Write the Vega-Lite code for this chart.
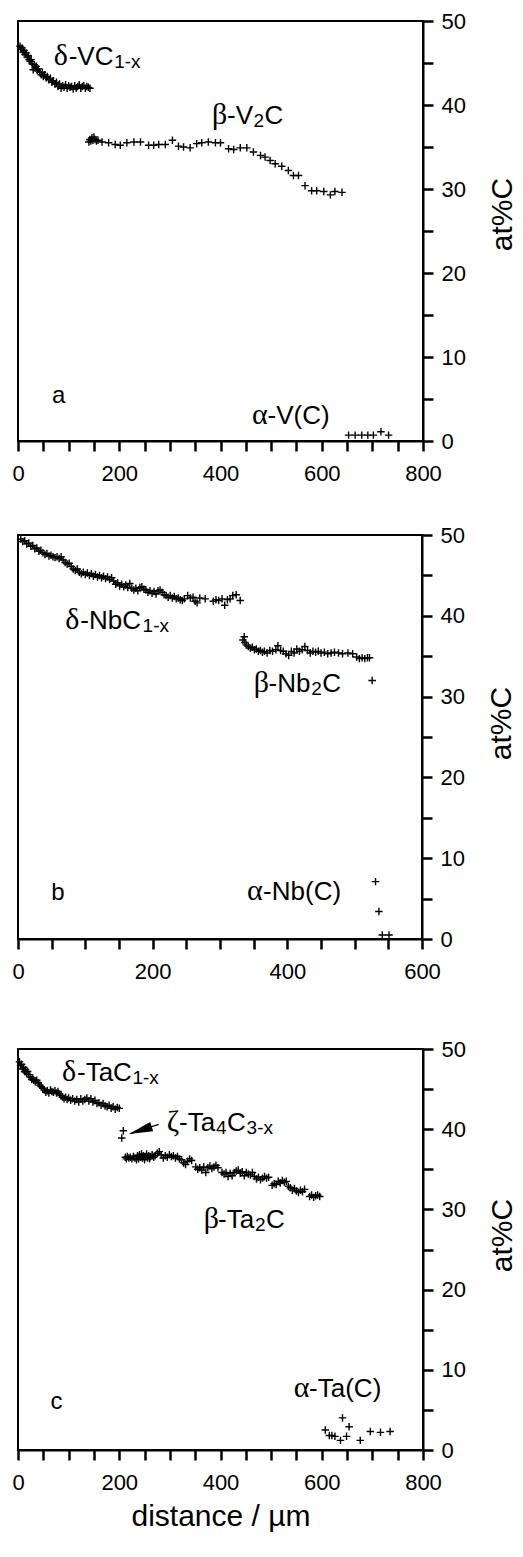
{
  "$schema": "https://vega.github.io/schema/vega-lite/v6.json",
  "background": "white",
  "padding": {"left": 10, "top": 9, "right": 0, "bottom": 0},
  "config": {
    "view": {"stroke": "black", "strokeWidth": 2},
    "axis": {
      "domain": true, "domainColor": "black", "domainWidth": 2,
      "ticks": true, "tickColor": "black", "tickWidth": 2.5, "tickSize": 10,
      "labelColor": "black", "labelFont": "Liberation Sans", "labelFontSize": 22, "labelPadding": 8,
      "titleFont": "Liberation Sans", "titleFontSize": 30, "titleFontWeight": "normal", "titleColor": "black",
      "grid": false, "labelFlush": false
    },
    "axisX": {"labelPadding": 12}
  },
  "datasets": {
    "a": [
      {"dist":4,"atC":47.0},{"dist":6,"atC":46.6},{"dist":8,"atC":46.8},{"dist":10,"atC":46.3},{"dist":12,"atC":46.5},{"dist":14,"atC":46.0},{"dist":16,"atC":46.2},{"dist":18,"atC":45.7},{"dist":20,"atC":45.9},{"dist":22,"atC":45.4},{"dist":24,"atC":45.2},{"dist":26,"atC":45.4},{"dist":28,"atC":44.9},{"dist":30,"atC":44.2},{"dist":32,"atC":44.8},{"dist":34,"atC":44.4},{"dist":36,"atC":44.6},{"dist":38,"atC":44.1},{"dist":40,"atC":44.3},{"dist":43,"atC":43.9},{"dist":46,"atC":43.6},{"dist":48,"atC":43.9},{"dist":50,"atC":43.4},{"dist":53,"atC":43.6},{"dist":56,"atC":43.2},{"dist":58,"atC":43.4},{"dist":61,"atC":43.0},{"dist":64,"atC":43.2},{"dist":67,"atC":42.7},{"dist":70,"atC":42.9},{"dist":73,"atC":42.5},{"dist":76,"atC":42.7},{"dist":79,"atC":42.2},{"dist":82,"atC":42.5},{"dist":85,"atC":42.0},{"dist":88,"atC":42.3},{"dist":91,"atC":42.1},{"dist":94,"atC":42.4},{"dist":97,"atC":42.0},{"dist":100,"atC":42.3},{"dist":103,"atC":42.1},{"dist":106,"atC":42.2},{"dist":109,"atC":41.9},{"dist":112,"atC":42.3},{"dist":115,"atC":42.0},{"dist":118,"atC":42.2},{"dist":121,"atC":42.4},{"dist":124,"atC":42.0},{"dist":127,"atC":42.2},{"dist":130,"atC":42.3},{"dist":133,"atC":42.0},{"dist":136,"atC":42.2},{"dist":139,"atC":42.1},{"dist":142,"atC":42.0},
      {"dist":140,"atC":35.6},{"dist":142,"atC":35.9},{"dist":144,"atC":35.7},{"dist":146,"atC":36.1},{"dist":148,"atC":35.8},{"dist":150,"atC":36.2},{"dist":152,"atC":35.9},{"dist":155,"atC":35.7},{"dist":158,"atC":35.8},{"dist":166,"atC":35.6},{"dist":179,"atC":35.5},{"dist":192,"atC":35.3},{"dist":202,"atC":35.2},{"dist":215,"atC":35.5},{"dist":229,"atC":35.6},{"dist":242,"atC":35.6},{"dist":258,"atC":35.2},{"dist":268,"atC":35.2},{"dist":278,"atC":35.3},{"dist":291,"atC":35.3},{"dist":305,"atC":35.8},{"dist":317,"atC":35.1},{"dist":327,"atC":35.0},{"dist":340,"atC":34.9},{"dist":353,"atC":35.4},{"dist":363,"atC":35.5},{"dist":376,"atC":35.6},{"dist":390,"atC":35.5},{"dist":400,"atC":35.5},{"dist":416,"atC":34.8},{"dist":426,"atC":34.7},{"dist":439,"atC":34.9},{"dist":452,"atC":34.9},{"dist":465,"atC":34.4},{"dist":479,"atC":34.0},{"dist":488,"atC":33.8},{"dist":498,"atC":33.4},{"dist":508,"atC":33.0},{"dist":521,"atC":32.7},{"dist":534,"atC":32.2},{"dist":544,"atC":31.6},{"dist":554,"atC":31.6},{"dist":567,"atC":30.4},{"dist":580,"atC":29.8},{"dist":590,"atC":29.8},{"dist":604,"atC":29.7},{"dist":617,"atC":29.3},{"dist":626,"atC":29.7},{"dist":640,"atC":29.6},
      {"dist":653,"atC":0.7},{"dist":666,"atC":0.7},{"dist":679,"atC":0.7},{"dist":691,"atC":0.7},{"dist":702,"atC":0.7},{"dist":717,"atC":1.1},{"dist":732,"atC":0.7}
    ],
    "b": [
      {"dist":4,"atC":49.5},{"dist":7,"atC":49.2},{"dist":10,"atC":49.3},{"dist":13,"atC":48.9},{"dist":16,"atC":49.0},{"dist":19,"atC":48.6},{"dist":22,"atC":48.7},{"dist":25,"atC":48.3},{"dist":28,"atC":48.4},{"dist":31,"atC":48.0},{"dist":34,"atC":48.1},{"dist":37,"atC":47.8},{"dist":40,"atC":47.6},{"dist":43,"atC":47.7},{"dist":46,"atC":47.4},{"dist":49,"atC":47.5},{"dist":52,"atC":47.3},{"dist":55,"atC":47.2},{"dist":58,"atC":47.3},{"dist":61,"atC":47.1},{"dist":64,"atC":47.3},{"dist":67,"atC":46.9},{"dist":70,"atC":46.6},{"dist":73,"atC":46.4},{"dist":76,"atC":46.5},{"dist":79,"atC":46.1},{"dist":82,"atC":45.8},{"dist":85,"atC":45.6},{"dist":88,"atC":45.8},{"dist":91,"atC":45.4},{"dist":94,"atC":45.2},{"dist":97,"atC":45.4},{"dist":100,"atC":45.1},{"dist":103,"atC":45.3},{"dist":106,"atC":45.0},{"dist":109,"atC":45.2},{"dist":112,"atC":44.9},{"dist":115,"atC":45.1},{"dist":118,"atC":44.8},{"dist":121,"atC":45.0},{"dist":124,"atC":44.7},{"dist":127,"atC":44.9},{"dist":130,"atC":44.6},{"dist":133,"atC":44.8},{"dist":136,"atC":44.5},{"dist":139,"atC":44.7},{"dist":142,"atC":44.3},{"dist":145,"atC":43.9},{"dist":148,"atC":44.1},{"dist":151,"atC":43.7},{"dist":154,"atC":43.9},{"dist":157,"atC":43.6},{"dist":160,"atC":43.8},{"dist":163,"atC":43.5},{"dist":166,"atC":44.0},{"dist":169,"atC":43.4},{"dist":172,"atC":43.2},{"dist":175,"atC":43.4},{"dist":178,"atC":43.1},{"dist":181,"atC":43.5},{"dist":184,"atC":43.6},{"dist":187,"atC":43.3},{"dist":190,"atC":43.2},{"dist":193,"atC":42.9},{"dist":196,"atC":43.1},{"dist":199,"atC":42.8},{"dist":202,"atC":43.0},{"dist":205,"atC":42.7},{"dist":208,"atC":43.1},{"dist":211,"atC":43.2},{"dist":214,"atC":42.9},{"dist":217,"atC":42.6},{"dist":220,"atC":42.5},{"dist":223,"atC":42.3},{"dist":226,"atC":42.5},{"dist":229,"atC":42.2},{"dist":232,"atC":42.4},{"dist":235,"atC":42.1},{"dist":238,"atC":42.2},{"dist":241,"atC":42.0},{"dist":244,"atC":41.9},{"dist":247,"atC":42.1},{"dist":252,"atC":42.5},{"dist":256,"atC":42.2},{"dist":260,"atC":42.3},{"dist":263,"atC":41.8},{"dist":266,"atC":41.6},{"dist":270,"atC":42.2},{"dist":278,"atC":42.1},{"dist":290,"atC":41.8},{"dist":294,"atC":42.0},{"dist":298,"atC":41.9},{"dist":303,"atC":42.1},{"dist":307,"atC":41.3},{"dist":311,"atC":42.0},{"dist":315,"atC":42.1},{"dist":319,"atC":42.5},{"dist":324,"atC":42.6},{"dist":330,"atC":41.9},
      {"dist":334,"atC":37.0},{"dist":336,"atC":37.4},{"dist":337,"atC":36.7},{"dist":339,"atC":36.4},{"dist":342,"atC":36.2},{"dist":345,"atC":36.0},{"dist":348,"atC":36.1},{"dist":351,"atC":35.8},{"dist":354,"atC":35.9},{"dist":357,"atC":35.6},{"dist":360,"atC":35.7},{"dist":363,"atC":35.5},{"dist":366,"atC":35.6},{"dist":370,"atC":35.4},{"dist":374,"atC":35.7},{"dist":378,"atC":35.6},{"dist":383,"atC":35.8},{"dist":386,"atC":36.3},{"dist":390,"atC":35.7},{"dist":394,"atC":35.6},{"dist":398,"atC":35.3},{"dist":402,"atC":35.1},{"dist":406,"atC":35.6},{"dist":410,"atC":35.4},{"dist":414,"atC":35.9},{"dist":418,"atC":35.6},{"dist":422,"atC":35.8},{"dist":426,"atC":36.2},{"dist":430,"atC":35.7},{"dist":434,"atC":35.4},{"dist":438,"atC":35.6},{"dist":442,"atC":35.5},{"dist":446,"atC":35.6},{"dist":450,"atC":35.4},{"dist":455,"atC":35.5},{"dist":460,"atC":35.3},{"dist":465,"atC":35.4},{"dist":470,"atC":35.5},{"dist":476,"atC":35.4},{"dist":482,"atC":35.3},{"dist":490,"atC":35.4},{"dist":497,"atC":35.3},{"dist":503,"atC":34.9},{"dist":507,"atC":34.7},{"dist":511,"atC":34.8},{"dist":515,"atC":34.7},{"dist":519,"atC":34.8},{"dist":522,"atC":34.8},{"dist":526,"atC":32.0},
      {"dist":531,"atC":7.1},{"dist":536,"atC":3.4},{"dist":541,"atC":0.5},{"dist":551,"atC":0.5}
    ],
    "c": [
      {"dist":3,"atC":48.4},{"dist":5,"atC":47.9},{"dist":7,"atC":48.1},{"dist":9,"atC":47.5},{"dist":11,"atC":47.7},{"dist":13,"atC":47.2},{"dist":15,"atC":47.4},{"dist":17,"atC":47.0},{"dist":19,"atC":47.2},{"dist":21,"atC":46.8},{"dist":24,"atC":46.5},{"dist":27,"atC":46.2},{"dist":29,"atC":46.4},{"dist":31,"atC":46.1},{"dist":34,"atC":45.9},{"dist":37,"atC":46.1},{"dist":40,"atC":45.8},{"dist":43,"atC":45.5},{"dist":46,"atC":45.3},{"dist":49,"atC":45.1},{"dist":52,"atC":44.9},{"dist":55,"atC":44.6},{"dist":58,"atC":44.8},{"dist":61,"atC":44.5},{"dist":64,"atC":44.9},{"dist":67,"atC":44.7},{"dist":70,"atC":44.6},{"dist":73,"atC":44.8},{"dist":76,"atC":44.5},{"dist":79,"atC":44.7},{"dist":82,"atC":44.4},{"dist":85,"atC":44.2},{"dist":88,"atC":44.0},{"dist":91,"atC":43.8},{"dist":94,"atC":44.0},{"dist":97,"atC":43.7},{"dist":100,"atC":43.9},{"dist":104,"atC":43.6},{"dist":108,"atC":43.8},{"dist":112,"atC":43.5},{"dist":116,"atC":43.7},{"dist":120,"atC":43.4},{"dist":124,"atC":43.8},{"dist":128,"atC":43.5},{"dist":132,"atC":43.7},{"dist":136,"atC":43.9},{"dist":140,"atC":43.5},{"dist":144,"atC":43.8},{"dist":148,"atC":43.4},{"dist":152,"atC":43.6},{"dist":156,"atC":43.2},{"dist":160,"atC":43.3},{"dist":164,"atC":43.0},{"dist":168,"atC":43.2},{"dist":172,"atC":42.9},{"dist":176,"atC":42.8},{"dist":180,"atC":43.0},{"dist":184,"atC":42.6},{"dist":188,"atC":42.8},{"dist":192,"atC":42.5},{"dist":196,"atC":42.7},{"dist":200,"atC":42.6},
      {"dist":208,"atC":39.8},{"dist":205,"atC":38.9},
      {"dist":212,"atC":36.5},{"dist":214,"atC":36.3},{"dist":216,"atC":36.6},{"dist":219,"atC":36.4},{"dist":222,"atC":36.5},{"dist":225,"atC":36.3},{"dist":228,"atC":36.6},{"dist":231,"atC":36.4},{"dist":234,"atC":36.2},{"dist":236,"atC":36.7},{"dist":238,"atC":36.3},{"dist":240,"atC":36.8},{"dist":242,"atC":36.5},{"dist":244,"atC":36.9},{"dist":246,"atC":36.4},{"dist":248,"atC":36.7},{"dist":250,"atC":36.2},{"dist":252,"atC":36.6},{"dist":254,"atC":36.9},{"dist":256,"atC":36.4},{"dist":258,"atC":36.7},{"dist":260,"atC":36.3},{"dist":262,"atC":36.6},{"dist":265,"atC":36.8},{"dist":268,"atC":36.5},{"dist":271,"atC":36.7},{"dist":275,"atC":37.0},{"dist":279,"atC":37.2},{"dist":283,"atC":36.8},{"dist":287,"atC":36.4},{"dist":291,"atC":36.7},{"dist":295,"atC":36.5},{"dist":299,"atC":36.8},{"dist":303,"atC":36.6},{"dist":307,"atC":36.7},{"dist":311,"atC":36.4},{"dist":315,"atC":36.6},{"dist":319,"atC":36.3},{"dist":323,"atC":36.2},{"dist":327,"atC":35.8},{"dist":331,"atC":35.6},{"dist":335,"atC":36.0},{"dist":339,"atC":36.3},{"dist":343,"atC":36.1},{"dist":351,"atC":35.3},{"dist":355,"atC":35.0},{"dist":359,"atC":35.2},{"dist":363,"atC":34.9},{"dist":367,"atC":35.3},{"dist":371,"atC":34.6},{"dist":375,"atC":35.2},{"dist":379,"atC":35.4},{"dist":383,"atC":35.1},{"dist":387,"atC":35.3},{"dist":391,"atC":35.5},{"dist":395,"atC":35.2},{"dist":403,"atC":34.6},{"dist":407,"atC":34.4},{"dist":411,"atC":34.6},{"dist":415,"atC":34.1},{"dist":419,"atC":34.5},{"dist":423,"atC":34.2},{"dist":427,"atC":34.6},{"dist":431,"atC":34.8},{"dist":435,"atC":34.9},{"dist":439,"atC":34.5},{"dist":443,"atC":34.7},{"dist":447,"atC":34.2},{"dist":451,"atC":34.6},{"dist":455,"atC":34.4},{"dist":459,"atC":34.3},{"dist":463,"atC":34.6},{"dist":467,"atC":34.1},{"dist":471,"atC":33.8},{"dist":475,"atC":34.0},{"dist":479,"atC":33.7},{"dist":483,"atC":33.9},{"dist":487,"atC":34.1},{"dist":491,"atC":33.9},{"dist":495,"atC":34.0},{"dist":502,"atC":33.0},{"dist":506,"atC":33.2},{"dist":510,"atC":33.1},{"dist":514,"atC":33.5},{"dist":518,"atC":33.3},{"dist":522,"atC":33.6},{"dist":526,"atC":33.4},{"dist":530,"atC":33.5},{"dist":534,"atC":32.9},{"dist":538,"atC":32.7},{"dist":542,"atC":32.4},{"dist":546,"atC":32.6},{"dist":550,"atC":32.3},{"dist":554,"atC":32.1},{"dist":558,"atC":32.4},{"dist":562,"atC":32.2},{"dist":566,"atC":32.5},{"dist":576,"atC":31.6},{"dist":580,"atC":31.8},{"dist":584,"atC":31.5},{"dist":588,"atC":31.7},{"dist":592,"atC":31.8},{"dist":596,"atC":31.6},
      {"dist":607,"atC":2.5},{"dist":615,"atC":1.8},{"dist":620,"atC":1.8},{"dist":626,"atC":1.7},{"dist":637,"atC":1.2},{"dist":641,"atC":4.0},{"dist":649,"atC":1.7},{"dist":654,"atC":2.9},{"dist":676,"atC":1.2},{"dist":696,"atC":2.3},{"dist":716,"atC":2.2},{"dist":735,"atC":2.3}
    ],
    "labels": [
      {"p":"a","k":"greek","t":"δ","dist":70.5,"atC":44.8},
      {"p":"a","k":"main","t":"-VC","dist":100,"atC":44.8},
      {"p":"a","k":"sub","t":"1-x","dist":190,"atC":44.45},
      {"p":"a","k":"greek","t":"β","dist":383,"atC":37.7},
      {"p":"a","k":"main","t":"-V","dist":413,"atC":37.7},
      {"p":"a","k":"sub","t":"2","dist":465,"atC":37.35},
      {"p":"a","k":"main","t":"C","dist":487,"atC":37.7},
      {"p":"a","k":"greek","t":"α","dist":462,"atC":2.06},
      {"p":"a","k":"main","t":"-V(C)","dist":493,"atC":2.06},
      {"p":"a","k":"letter","t":"a","dist":67,"atC":4.5},
      {"p":"b","k":"greek","t":"δ","dist":70,"atC":38.4},
      {"p":"b","k":"main","t":"-NbC","dist":92.5,"atC":38.4},
      {"p":"b","k":"sub","t":"1-x","dist":185,"atC":38.03},
      {"p":"b","k":"greek","t":"β","dist":350,"atC":30.6},
      {"p":"b","k":"main","t":"-Nb","dist":372,"atC":30.6},
      {"p":"b","k":"sub","t":"2","dist":435.5,"atC":30.23},
      {"p":"b","k":"main","t":"C","dist":452,"atC":30.6},
      {"p":"b","k":"greek","t":"α","dist":340,"atC":4.8},
      {"p":"b","k":"main","t":"-Nb(C)","dist":364,"atC":4.8},
      {"p":"b","k":"letter","t":"b","dist":49.5,"atC":4.8},
      {"p":"c","k":"greek","t":"δ","dist":87,"atC":45.96},
      {"p":"c","k":"main","t":"-TaC","dist":116.5,"atC":45.96},
      {"p":"c","k":"sub","t":"1-x","dist":226,"atC":45.6},
      {"p":"c","k":"greek","t":"ζ","dist":294,"atC":39.8},
      {"p":"c","k":"main","t":"-Ta","dist":318,"atC":39.8},
      {"p":"c","k":"sub","t":"4","dist":391,"atC":39.43},
      {"p":"c","k":"main","t":"C","dist":413,"atC":39.8},
      {"p":"c","k":"sub","t":"3-x","dist":451.5,"atC":39.43},
      {"p":"c","k":"greek","t":"β","dist":367,"atC":27.7},
      {"p":"c","k":"main","t":"-Ta","dist":395,"atC":27.7},
      {"p":"c","k":"sub","t":"2","dist":468,"atC":27.33},
      {"p":"c","k":"main","t":"C","dist":490,"atC":27.7},
      {"p":"c","k":"greek","t":"α","dist":544.5,"atC":6.65},
      {"p":"c","k":"main","t":"-Ta(C)","dist":575,"atC":6.65},
      {"p":"c","k":"letter","t":"c","dist":64,"atC":5.1}
    ]
  },
  "spacing": 54,
  "vconcat": [
    {
      "spacing": 38,
      "vconcat": [
        {
          "width": 405, "height": 420,
          "encoding": {
            "x": {"field": "dist", "type": "quantitative", "scale": {"domain": [0, 800], "nice": false, "zero": false},
                  "axis": {"title": null, "values": [0,50,100,150,200,250,300,350,400,450,500,550,600,650,700,750,800], "labelExpr": "datum.value % 200 === 0 ? datum.label : ''"}},
            "y": {"field": "atC", "type": "quantitative", "scale": {"domain": [0, 50], "nice": false},
                  "axis": {"orient": "right", "title": "at%C", "titleAngle": 270, "titleBaseline": "top", "titlePadding": 22, "titleY": 193, "values": [0,5,10,15,20,25,30,35,40,45,50], "labelExpr": "datum.value % 10 === 0 ? datum.label : ''"}}
          },
          "layer": [
            {"data": {"name": "a"}, "mark": {"type": "point", "shape": "M-1,0L1,0M0,-1L0,1", "size": 56, "strokeWidth": 1.4, "color": "black", "opacity": 1, "filled": false}},
            {"data": {"name": "labels"}, "transform": [{"filter": "datum.p === 'a' && datum.k === 'greek'"}],
             "mark": {"type": "text", "font": "Liberation Serif", "fontSize": 30, "align": "left", "baseline": "alphabetic", "color": "black"},
             "encoding": {"text": {"field": "t"}}},
            {"data": {"name": "labels"}, "transform": [{"filter": "datum.p === 'a' && datum.k === 'main'"}],
             "mark": {"type": "text", "font": "Liberation Sans", "fontSize": 26, "align": "left", "baseline": "alphabetic", "color": "black"},
             "encoding": {"text": {"field": "t"}}},
            {"data": {"name": "labels"}, "transform": [{"filter": "datum.p === 'a' && datum.k === 'sub'"}],
             "mark": {"type": "text", "font": "Liberation Sans", "fontSize": 19, "align": "left", "baseline": "alphabetic", "color": "black"},
             "encoding": {"text": {"field": "t"}}},
            {"data": {"name": "labels"}, "transform": [{"filter": "datum.p === 'a' && datum.k === 'letter'"}],
             "mark": {"type": "text", "font": "Liberation Sans", "fontSize": 24, "align": "left", "baseline": "alphabetic", "color": "black"},
             "encoding": {"text": {"field": "t"}}}
          ]
        },
        {
          "width": 404, "height": 404,
          "encoding": {
            "x": {"field": "dist", "type": "quantitative", "scale": {"domain": [0, 600], "nice": false, "zero": false},
                  "axis": {"title": null, "values": [0,50,100,150,200,250,300,350,400,450,500,550,600], "labelExpr": "datum.value % 200 === 0 ? datum.label : ''"}},
            "y": {"field": "atC", "type": "quantitative", "scale": {"domain": [0, 50], "nice": false},
                  "axis": {"orient": "right", "title": "at%C", "titleAngle": 270, "titleBaseline": "top", "titlePadding": 22, "titleY": 188, "values": [0,5,10,15,20,25,30,35,40,45,50], "labelExpr": "datum.value % 10 === 0 ? datum.label : ''"}}
          },
          "layer": [
            {"data": {"name": "b"}, "mark": {"type": "point", "shape": "M-1,0L1,0M0,-1L0,1", "size": 56, "strokeWidth": 1.4, "color": "black", "opacity": 1, "filled": false}},
            {"data": {"name": "labels"}, "transform": [{"filter": "datum.p === 'b' && datum.k === 'greek'"}],
             "mark": {"type": "text", "font": "Liberation Serif", "fontSize": 30, "align": "left", "baseline": "alphabetic", "color": "black"},
             "encoding": {"text": {"field": "t"}}},
            {"data": {"name": "labels"}, "transform": [{"filter": "datum.p === 'b' && datum.k === 'main'"}],
             "mark": {"type": "text", "font": "Liberation Sans", "fontSize": 26, "align": "left", "baseline": "alphabetic", "color": "black"},
             "encoding": {"text": {"field": "t"}}},
            {"data": {"name": "labels"}, "transform": [{"filter": "datum.p === 'b' && datum.k === 'sub'"}],
             "mark": {"type": "text", "font": "Liberation Sans", "fontSize": 19, "align": "left", "baseline": "alphabetic", "color": "black"},
             "encoding": {"text": {"field": "t"}}},
            {"data": {"name": "labels"}, "transform": [{"filter": "datum.p === 'b' && datum.k === 'letter'"}],
             "mark": {"type": "text", "font": "Liberation Sans", "fontSize": 24, "align": "left", "baseline": "alphabetic", "color": "black"},
             "encoding": {"text": {"field": "t"}}}
          ]
        }
      ]
    },
    {
      "width": 405, "height": 401,
      "encoding": {
        "x": {"field": "dist", "type": "quantitative", "scale": {"domain": [0, 800], "nice": false, "zero": false},
              "axis": {"title": "distance / µm", "titlePadding": 8, "values": [0,50,100,150,200,250,300,350,400,450,500,550,600,650,700,750,800], "labelExpr": "datum.value % 200 === 0 ? datum.label : ''"}},
        "y": {"field": "atC", "type": "quantitative", "scale": {"domain": [0, 50], "nice": false},
              "axis": {"orient": "right", "title": "at%C", "titleAngle": 270, "titleBaseline": "top", "titlePadding": 22, "titleY": 186, "values": [0,5,10,15,20,25,30,35,40,45,50], "labelExpr": "datum.value % 10 === 0 ? datum.label : ''"}}
      },
      "layer": [
        {"data": {"name": "c"}, "mark": {"type": "point", "shape": "M-1,0L1,0M0,-1L0,1", "size": 56, "strokeWidth": 1.4, "color": "black", "opacity": 1, "filled": false}},
        {"data": {"values": [{"dist": 278, "atC": 40.6, "dist2": 222, "atC2": 39.45}]}, "mark": {"type": "rule", "strokeWidth": 1.5, "color": "black"},
         "encoding": {"x2": {"field": "dist2"}, "y2": {"field": "atC2"}}},
        {"data": {"values": [{"dist": 219, "atC": 39.4}]}, "mark": {"type": "point", "shape": "M0,0L2,-0.4L2,0.4Z", "size": 576, "angle": 342, "filled": true, "color": "black", "opacity": 1}},
        {"data": {"name": "labels"}, "transform": [{"filter": "datum.p === 'c' && datum.k === 'greek'"}],
         "mark": {"type": "text", "font": "Liberation Serif", "fontSize": 30, "align": "left", "baseline": "alphabetic", "color": "black"},
         "encoding": {"text": {"field": "t"}}},
        {"data": {"name": "labels"}, "transform": [{"filter": "datum.p === 'c' && datum.k === 'main'"}],
         "mark": {"type": "text", "font": "Liberation Sans", "fontSize": 26, "align": "left", "baseline": "alphabetic", "color": "black"},
         "encoding": {"text": {"field": "t"}}},
        {"data": {"name": "labels"}, "transform": [{"filter": "datum.p === 'c' && datum.k === 'sub'"}],
         "mark": {"type": "text", "font": "Liberation Sans", "fontSize": 19, "align": "left", "baseline": "alphabetic", "color": "black"},
         "encoding": {"text": {"field": "t"}}},
        {"data": {"name": "labels"}, "transform": [{"filter": "datum.p === 'c' && datum.k === 'letter'"}],
         "mark": {"type": "text", "font": "Liberation Sans", "fontSize": 24, "align": "left", "baseline": "alphabetic", "color": "black"},
         "encoding": {"text": {"field": "t"}}}
      ]
    }
  ]
}
